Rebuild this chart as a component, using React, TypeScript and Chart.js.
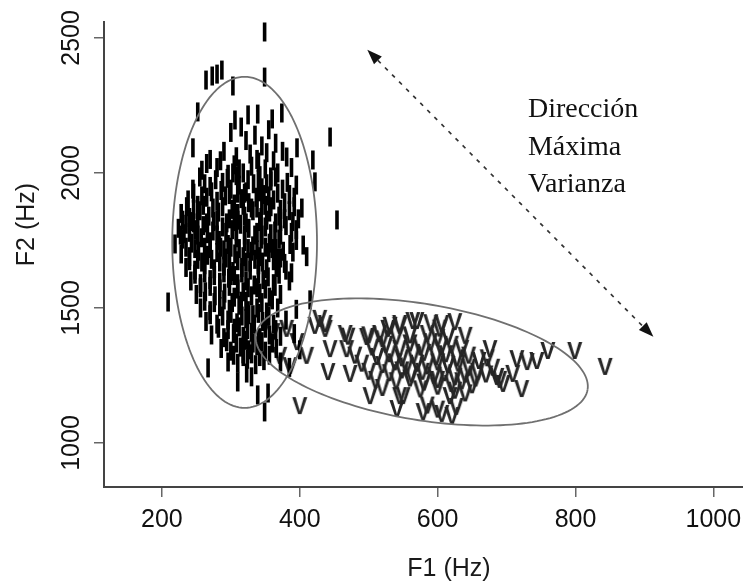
import { useEffect, useRef } from "react";
import { Chart, registerables } from "chart.js";

Chart.register(...registerables);

// ---- axes ----
const xTickValues = [200, 400, 600, 800, 1000];
const yTickValues = [1000, 1500, 2000, 2500];
const xLimits = [116, 1043];
const yLimits = [837, 2559];
const xTitle = "F1 (Hz)";
const yTitle = "F2 (Hz)";

// ---- "I" vowel tokens (F1, F2 in Hz) ----
const iF1 = [
  264, 273, 280, 287, 303, 349, 349, 252, 306, 325, 339, 360, 374, 245, 444, 396, 381, 419, 422, 403, 454, 405, 390, 415, 219, 209, 267, 310, 323, 339, 354, 349,
  300, 315, 322, 335, 345, 355, 365, 290, 308, 328, 340, 352, 362, 375, 270,
  258, 280, 296, 305, 318, 330, 342, 350, 368, 388, 262,
  245, 270, 288, 300, 312, 322, 333, 345, 358, 375, 395,
  238, 252, 265, 280, 292, 305, 315, 326, 337, 350, 362, 378, 392,
  228, 240, 255, 268, 282, 298, 310, 320, 332, 344, 356, 370, 385, 398,
  224, 235, 248, 260, 274, 288, 302, 314, 326, 338, 350, 364, 380, 395,
  230, 243, 257, 270, 283, 296, 308, 320, 332, 344, 356, 370, 386,
  228, 240, 253, 266, 280, 293, 306, 318, 330, 342, 355, 368, 410,
  235, 248, 262, 276, 290, 303, 316, 328, 340, 352, 366, 380,
  242, 256, 270, 284, 297, 310, 322, 334, 347, 362, 385,
  250, 263, 277, 291, 305, 318, 330, 342, 356, 372,
  256, 270, 284, 298, 312, 325, 338, 352, 368, 395,
  264, 280, 296, 309, 322, 334, 346, 362, 380,
  272, 290, 304, 318, 330, 342, 356, 372, 392,
  286, 300, 314, 326, 338, 350, 366, 400,
  296, 310, 324, 336, 348, 372, 385,
  303, 325, 310, 330, 305, 335, 312, 328, 300, 325, 315, 332, 305, 340, 318, 330,
  232, 246, 262, 275, 252, 285,
  348, 372, 360, 378, 395, 388,
  265, 285, 312, 338, 358,
  255, 278, 295, 308, 340, 352, 365, 382,
  246, 258, 272, 286, 298, 320, 342, 355, 368, 385,
  236, 246, 260, 274, 288, 302, 318, 338, 345, 358, 372, 392,
  230, 242, 252, 265, 280, 294, 310, 322, 342, 352, 365, 378, 390,
  227, 240, 252, 266, 280, 293, 308, 320, 345, 358, 372, 388,
  235, 248, 270, 290, 300, 325, 338, 350, 365, 376,
  240, 258, 272, 284, 298, 310, 322, 335, 346, 362, 372,
  248, 262, 276, 290, 305, 316, 340, 354, 370,
  256, 270, 284, 298, 310, 338, 350, 364,
  262, 276, 290, 302, 322, 345, 360,
  270, 288, 300, 316, 326, 340, 355,
  282, 296, 312, 324, 350, 365,
  294, 308, 322, 332, 345, 360,
  304, 318, 330, 342, 356,
];
const iF2 = [
  2344, 2359, 2366, 2381, 2322, 2355, 2522, 2226, 2196, 2215, 2218, 2200, 2222, 2093, 2133, 2093, 2059, 2048, 1967, 1870, 1826, 1733, 1707, 1530, 1737, 1522, 1278, 1226, 1259, 1178, 1185, 1115,
  2150, 2170, 2120, 2140, 2100, 2160, 2110, 2080, 2060, 2070, 2040, 2075, 2045, 2080, 2050,
  2010, 2020, 1995, 2030, 2000, 2025, 1990, 2015, 2000, 2020, 1960,
  1940, 1950, 1965, 1940, 1955, 1930, 1960, 1945, 1970, 1940, 1955,
  1900, 1880, 1910, 1895, 1915, 1885, 1905, 1890, 1910, 1880, 1900, 1890, 1910,
  1850, 1835, 1860, 1840, 1855, 1830, 1850, 1840, 1860, 1835, 1855, 1840, 1860, 1830,
  1795, 1810, 1790, 1805, 1785, 1800, 1790, 1810, 1795, 1780, 1800, 1785, 1805, 1790,
  1755, 1740, 1760, 1745, 1750, 1735, 1760, 1745, 1730, 1755, 1740, 1755, 1735,
  1700, 1690, 1710, 1695, 1705, 1685, 1700, 1690, 1710, 1690, 1705, 1685, 1690,
  1650, 1640, 1660, 1645, 1655, 1635, 1650, 1640, 1660, 1645, 1650, 1640,
  1600, 1590, 1605, 1595, 1610, 1590, 1600, 1585, 1605, 1590, 1600,
  1550, 1560, 1545, 1555, 1540, 1560, 1545, 1555, 1540, 1550,
  1500, 1490, 1505, 1495, 1510, 1490, 1500, 1485, 1500, 1495,
  1450, 1440, 1455, 1445, 1460, 1440, 1450, 1440, 1455,
  1400, 1390, 1405, 1395, 1410, 1390, 1400, 1395, 1405,
  1350, 1340, 1355, 1345, 1360, 1340, 1350, 1345,
  1300, 1295, 1310, 1290, 1305, 1300, 1280,
  2000, 1975, 1925, 1870, 1820, 1770, 1720, 1670, 1620, 1575, 1525, 1475, 1425, 1380, 1330, 1245,
  1775, 1815, 1725, 1820, 1680, 1725,
  1920, 1820, 1720, 1665, 1750, 1630,
  2035, 2045, 2015, 2050, 1985,
  1985, 1975, 1980, 1990, 1975, 1960, 1985, 1965,
  1925, 1915, 1930, 1935, 1920, 1925, 1930, 1915, 1925, 1920,
  1875, 1865, 1880, 1870, 1875, 1865, 1880, 1870, 1880, 1875, 1865, 1875,
  1825, 1820, 1830, 1815, 1825, 1815, 1825, 1815, 1820, 1825, 1815, 1830, 1820,
  1770, 1780, 1770, 1775, 1770, 1780, 1785, 1770, 1770, 1775, 1770, 1780,
  1725, 1720, 1720, 1715, 1725, 1720, 1715, 1725, 1720, 1710,
  1675, 1670, 1680, 1670, 1665, 1675, 1670, 1680, 1670, 1675, 1685,
  1625, 1630, 1620, 1630, 1620, 1630, 1625, 1615, 1625,
  1575, 1580, 1570, 1580, 1570, 1575, 1570, 1580,
  1525, 1520, 1530, 1520, 1525, 1520, 1530,
  1475, 1470, 1480, 1470, 1475, 1480, 1470,
  1425, 1420, 1430, 1420, 1425, 1420,
  1375, 1370, 1380, 1370, 1375, 1370,
  1325, 1320, 1330, 1320, 1325,
];

// ---- "V" vowel tokens (F1, F2 in Hz) ----
const vF1 = [
  361, 381, 396, 410, 371, 386, 400, 422, 437, 429, 437, 466, 444, 468, 441, 473, 502, 541, 550, 497, 516, 528, 545, 564,
  843, 799, 760, 744, 730, 715, 676, 686, 695, 722, 709, 640, 606, 570, 545, 531, 579, 606, 621, 545, 618,
  505, 525, 545, 560, 575, 590, 605, 620, 635,
  480, 512, 530, 548, 565, 580, 598, 612, 628, 645, 660,
  490, 520, 538, 555, 570, 585, 600, 615, 630, 645, 658,
  500, 530, 548, 562, 578, 595, 610, 625, 640, 655, 670,
  510, 540, 560, 580, 600, 620, 635, 650,
  520, 575, 600, 625, 640,
  470, 500, 520, 540, 560, 585, 600, 615,
  590, 625, 603,
  585, 600, 627, 672, 680, 690,
];
const vF2 = [
  1407, 1419, 1370, 1319, 1319, 1281, 1133, 1430, 1437, 1456, 1419, 1400, 1344, 1344, 1259, 1252, 1170, 1122, 1170, 1389, 1400, 1419, 1437, 1448,
  1278, 1337, 1337, 1300, 1296, 1307, 1344, 1241, 1215, 1196, 1252, 1393, 1437, 1448, 1430, 1430, 1111, 1104, 1096, 1170, 1170,
  1350, 1360, 1345, 1365, 1350, 1370, 1350, 1360, 1345,
  1320, 1315, 1325, 1310, 1320, 1330, 1315, 1325, 1310, 1320, 1300,
  1290, 1285, 1295, 1280, 1290, 1280, 1295, 1285, 1290, 1275, 1260,
  1260, 1255, 1265, 1250, 1260, 1245, 1255, 1240, 1250, 1235, 1250,
  1230, 1225, 1235, 1220, 1230, 1215, 1225, 1210,
  1200, 1195, 1205, 1190, 1180,
  1390, 1395, 1380, 1390, 1395, 1400, 1385, 1390,
  1440, 1444, 1420,
  1135, 1120, 1130, 1310, 1275, 1230,
];

// ---- ellipses: centre, first and second half-axis vectors (Hz) ----
const ellipseCentres = [[320, 1743], [577, 1300]];
const ellipseAxisU = [[105, 0], [240.5, -102.7]];
const ellipseAxisV = [[0, 613], [-13.9, -211.9]];

// ---- arrow (Hz) and note ----
const arrowF1 = [498, 913];
const arrowF2 = [2456, 1393];
const noteLines = ["Dirección", "Máxima", "Varianza"];
const notePos = [731, 2207];

const SANS = '"Liberation Sans", Arial, sans-serif';
const SERIF = '"Liberation Serif", "Times New Roman", serif';

function makeVMarker(): HTMLCanvasElement {
  const c = document.createElement("canvas");
  c.width = 20;
  c.height = 22;
  const g = c.getContext("2d")!;
  g.font = `bold 23px ${SANS}`;
  g.fillStyle = "#262626";
  g.textAlign = "center";
  g.textBaseline = "middle";
  g.fillText("V", 10, 11.5);
  return c;
}

const decorPlugin = {
  id: "decor",
  afterDatasetsDraw(chart: any) {
    const ctx = chart.ctx as CanvasRenderingContext2D;
    const xs = chart.scales.x;
    const ys = chart.scales.y;
    const px = (v: number) => xs.getPixelForValue(v);
    const py = (v: number) => ys.getPixelForValue(v);
    ctx.save();
    // ellipses
    ctx.strokeStyle = "#707070";
    ctx.lineWidth = 1.8;
    for (let k = 0; k < ellipseCentres.length; k++) {
      const [cx, cy] = ellipseCentres[k];
      const [ux, uy] = ellipseAxisU[k];
      const [vx, vy] = ellipseAxisV[k];
      ctx.beginPath();
      const n = 160;
      for (let i = 0; i <= n; i++) {
        const t = (i / n) * Math.PI * 2;
        const X = px(cx + Math.cos(t) * ux + Math.sin(t) * vx);
        const Y = py(cy + Math.cos(t) * uy + Math.sin(t) * vy);
        if (i === 0) ctx.moveTo(X, Y);
        else ctx.lineTo(X, Y);
      }
      ctx.stroke();
    }
    // arrow
    const x1 = px(arrowF1[0]), y1 = py(arrowF2[0]);
    const x2 = px(arrowF1[1]), y2 = py(arrowF2[1]);
    const ang = Math.atan2(y2 - y1, x2 - x1);
    const head = 15, hw = 5.5;
    ctx.strokeStyle = "#333";
    ctx.lineWidth = 1.7;
    ctx.setLineDash([4, 6]);
    ctx.beginPath();
    ctx.moveTo(x1 + Math.cos(ang) * head, y1 + Math.sin(ang) * head);
    ctx.lineTo(x2 - Math.cos(ang) * head, y2 - Math.sin(ang) * head);
    ctx.stroke();
    ctx.setLineDash([]);
    ctx.fillStyle = "#111";
    const drawHead = (tx: number, ty: number, a: number) => {
      const bx = tx - Math.cos(a) * head, by = ty - Math.sin(a) * head;
      ctx.beginPath();
      ctx.moveTo(tx, ty);
      ctx.lineTo(bx - Math.sin(a) * hw, by + Math.cos(a) * hw);
      ctx.lineTo(bx + Math.sin(a) * hw, by - Math.cos(a) * hw);
      ctx.closePath();
      ctx.fill();
    };
    drawHead(x1, y1, ang + Math.PI);
    drawHead(x2, y2, ang);
    // note
    ctx.fillStyle = "#111";
    ctx.font = `28px ${SERIF}`;
    ctx.textAlign = "left";
    ctx.textBaseline = "alphabetic";
    const nx = px(notePos[0]), ny = py(notePos[1]);
    noteLines.forEach((s, i) => ctx.fillText(s, nx, ny + i * 37.5));
    // axis titles
    ctx.fillStyle = "#1a1a1a";
    ctx.font = `25px ${SANS}`;
    ctx.textAlign = "center";
    ctx.textBaseline = "middle";
    const area = chart.chartArea;
    ctx.fillText(xTitle, area.left + 345, area.bottom + 82);
    ctx.save();
    ctx.translate(area.left - 77, (area.top + area.bottom) / 2 - 30);
    ctx.rotate(-Math.PI / 2);
    ctx.fillText(yTitle, 0, 0);
    ctx.restore();
    ctx.restore();
  },
};

export default function App() {
  const ref = useRef<HTMLCanvasElement | null>(null);
  useEffect(() => {
    if (!ref.current) return;
    const vMarker = makeVMarker();
    const chart = new Chart(ref.current, {
      type: "scatter",
      data: {
        datasets: [
          {
            label: "I",
            data: iF1.map((x, i) => ({ x, y: iF2[i] })),
            pointStyle: "line",
            rotation: 90,
            pointRadius: 9.5,
            pointBorderWidth: 3.6,
            borderColor: "#000",
            backgroundColor: "#000",
          },
          {
            label: "V",
            data: vF1.map((x, i) => ({ x, y: vF2[i] })),
            pointStyle: vMarker as any,
            pointRadius: 10,
          },
        ],
      },
      options: {
        animation: false,
        responsive: false,
        devicePixelRatio: 1,
        events: [],
        layout: { autoPadding: false, padding: { top: 22, left: 0, right: 0, bottom: 0 } },
        plugins: { legend: { display: false }, tooltip: { enabled: false } },
        scales: {
          x: {
            type: "linear",
            min: xLimits[0],
            max: xLimits[1],
            afterBuildTicks: (s: any) => {
              s.ticks = xTickValues.map((v) => ({ value: v }));
            },
            afterFit: (s: any) => {
              s.height = 99;
              s.paddingLeft = 0;
              s.paddingRight = 0;
            },
            ticks: {
              font: { family: SANS, size: 25 },
              color: "#111",
              padding: 8,
              maxRotation: 0,
              autoSkip: false,
              callback: (v: any) => String(v),
            },
            grid: {
              display: true,
              drawOnChartArea: false,
              drawTicks: true,
              tickLength: 10,
              color: "#666",
              lineWidth: 1.5,
            },
            border: { display: true, color: "#444", width: 2 },
          },
          y: {
            type: "linear",
            min: yLimits[0],
            max: yLimits[1],
            afterBuildTicks: (s: any) => {
              s.ticks = yTickValues.map((v) => ({ value: v }));
            },
            afterFit: (s: any) => {
              s.width = 104;
              s.paddingTop = 0;
              s.paddingBottom = 0;
            },
            ticks: {
              font: { family: SANS, size: 25 },
              color: "#111",
              padding: -6,
              minRotation: 90,
              maxRotation: 90,
              crossAlign: "center",
              autoSkip: false,
              callback: (v: any) => String(v),
            },
            grid: {
              display: true,
              drawOnChartArea: false,
              drawTicks: true,
              tickLength: 10,
              color: "#666",
              lineWidth: 1.5,
            },
            border: { display: true, color: "#444", width: 2 },
          },
        },
      },
      plugins: [decorPlugin],
    } as any);
    return () => chart.destroy();
  }, []);
  return (
    <div style={{ position: "fixed", left: 0, top: 0, width: 743, height: 586, background: "#fff" }}>
      <canvas ref={ref} width={743} height={586} style={{ display: "block" }} />
    </div>
  );
}
